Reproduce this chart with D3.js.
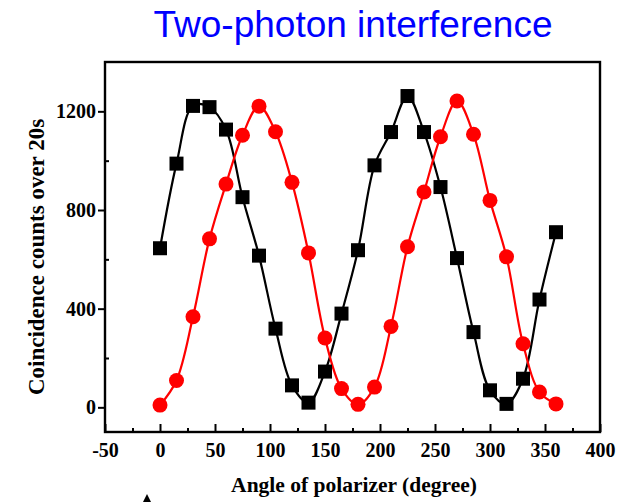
<!DOCTYPE html>
<html>
<head>
<meta charset="utf-8">
<script src="https://cdn.jsdelivr.net/npm/d3@7"></script>
<style>
  body { margin: 0; background: #fff; }
  .tick text { font-family: "Liberation Serif", "Times New Roman", serif; font-weight: bold; font-size: 20px; fill: #000; }
  .tick line { stroke: #000; stroke-width: 2; }
</style>
</head>
<body>
<svg width="635" height="502"></svg>
<script>
// angle of polarizer (degree), same for both series
var angles = [0, 15, 30, 45, 60, 75, 90, 105, 120, 135, 150, 165, 180,
              195, 210, 225, 240, 255, 270, 285, 300, 315, 330, 345, 360];
// black squares
var countsA = [645, 988, 1222, 1217, 1126, 852, 615, 319, 89, 19, 145, 380, 637,
               981, 1116, 1262, 1116, 893, 605, 305, 69, 14, 116, 437, 710];
// red circles
var countsB = [9, 109, 367, 683, 905, 1103, 1221, 1117, 912, 626, 281, 76, 12,
               82, 328, 651, 873, 1097, 1242, 1107, 839, 610, 258, 62, 14];

var xTicks = [-50, 0, 50, 100, 150, 200, 250, 300, 350, 400];
var xMinor = [-25, 25, 75, 125, 175, 225, 275, 325, 375];
var yTicks = [0, 400, 800, 1200];
var yMinor = [200, 600, 1000];

var svg = d3.select("svg");
svg.append("rect").attr("width", 635).attr("height", 502).attr("fill", "#fff");

var x = d3.scaleLinear().domain([-50, 400]).range([105, 600]);
var y = d3.scaleLinear().domain([-100, 1400]).range([432, 62]);
var plain = function(d) { return String(d); };

// title
svg.append("text")
    .attr("x", 353).attr("y", 37)
    .attr("text-anchor", "middle")
    .style("font-family", "'Liberation Sans', Arial, sans-serif")
    .style("font-size", "37px")
    .attr("fill", "#0000ff")
    .text("Two-photon interference");

// x axis (ticks point into the plot)
var gx = svg.append("g").attr("transform", "translate(0,432)")
    .call(d3.axisBottom(x).tickValues(xTicks).tickFormat(plain)
      .tickSizeInner(-8).tickSizeOuter(0).tickPadding(11));
gx.select(".domain").remove();
var gxm = svg.append("g").attr("transform", "translate(0,432)")
    .call(d3.axisBottom(x).tickValues(xMinor).tickSizeInner(-4).tickSizeOuter(0).tickFormat(""));
gxm.select(".domain").remove();

// y axis (major ticks outward, minor inward)
var gy = svg.append("g").attr("transform", "translate(105,0)")
    .call(d3.axisLeft(y).tickValues(yTicks).tickFormat(plain)
      .tickSizeInner(7).tickSizeOuter(0).tickPadding(2));
gy.select(".domain").remove();
var gym = svg.append("g").attr("transform", "translate(105,0)")
    .call(d3.axisLeft(y).tickValues(yMinor).tickSizeInner(-4).tickSizeOuter(0).tickFormat(""));
gym.select(".domain").remove();

// frame
svg.append("rect")
    .attr("x", 105).attr("y", 62)
    .attr("width", 495).attr("height", 370)
    .attr("fill", "none").attr("stroke", "#000").attr("stroke-width", 2.4);

// axis titles
svg.append("text")
    .attr("x", 354).attr("y", 492)
    .attr("text-anchor", "middle")
    .style("font-family", "'Liberation Serif', 'Times New Roman', serif")
    .style("font-weight", "bold").style("font-size", "21.5px")
    .text("Angle of polarizer (degree)");

svg.append("text")
    .attr("transform", "translate(44,257) rotate(-90)")
    .attr("text-anchor", "middle")
    .style("font-family", "'Liberation Serif', 'Times New Roman', serif")
    .style("font-weight", "bold").style("font-size", "23px")
    .text("Coincidence counts over 20s");

var line = d3.line()
    .x(function(d, i) { return x(angles[i]); })
    .y(function(d) { return y(d); })
    .curve(d3.curveCatmullRom.alpha(0.5));

svg.append("path").datum(countsA)
    .attr("d", line).attr("fill", "none").attr("stroke", "#000").attr("stroke-width", 2.2);
svg.append("path").datum(countsB)
    .attr("d", line).attr("fill", "none").attr("stroke", "#ff0000").attr("stroke-width", 2.2);

svg.append("g").selectAll("rect")
    .data(countsA).enter().append("rect")
    .attr("x", function(d, i) { return x(angles[i]) - 7; })
    .attr("y", function(d) { return y(d) - 7; })
    .attr("width", 14).attr("height", 14)
    .attr("fill", "#000");

svg.append("g").selectAll("circle")
    .data(countsB).enter().append("circle")
    .attr("cx", function(d, i) { return x(angles[i]); })
    .attr("cy", function(d) { return y(d); })
    .attr("r", 7.5)
    .attr("fill", "#ff0000");

// small cursor-like triangle at the bottom edge
svg.append("path")
    .attr("d", "M147,494 L143,502 L151,502 Z")
    .attr("fill", "#000");
</script>
</body>
</html>
